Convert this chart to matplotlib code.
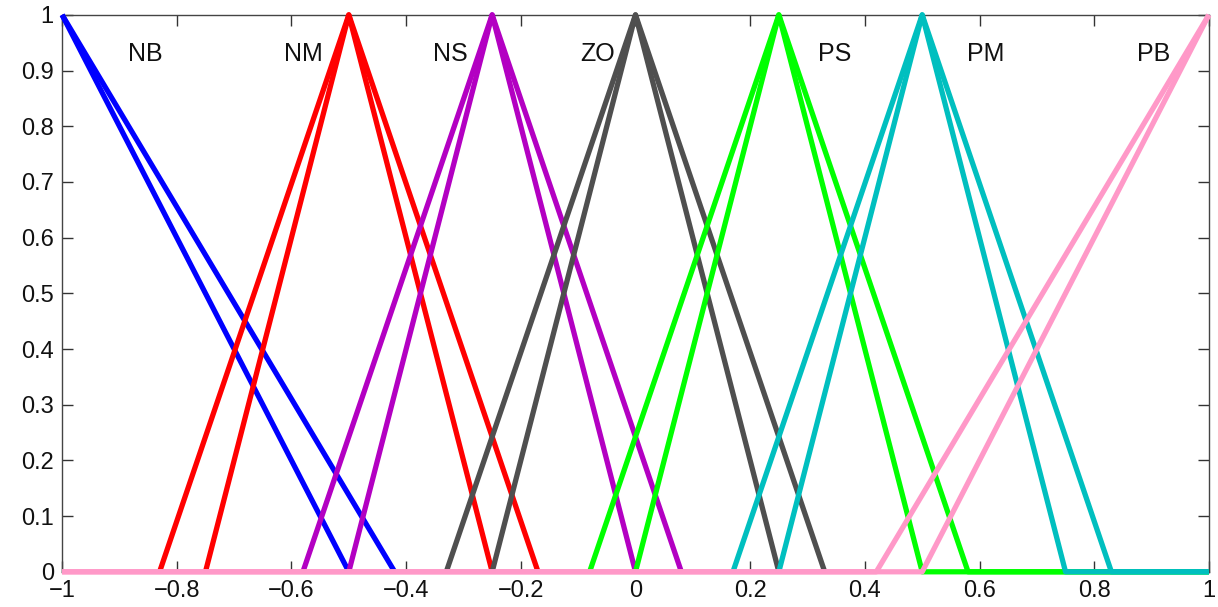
import numpy as np
import matplotlib
matplotlib.use('Agg')
import matplotlib.pyplot as plt
from matplotlib.ticker import FuncFormatter

plt.rcParams['font.family'] = ['Liberation Sans', 'DejaVu Sans']

# fuzzy sets: peak, inner triangle feet, outer triangle feet
names = ['NB', 'NM', 'NS', 'ZO', 'PS', 'PM', 'PB']
peaks = [-1.0, -0.5, -0.25, 0.0, 0.25, 0.5, 1.0]
inner_left = [-1.0, -0.75, -0.5, -0.25, 0.0, 0.25, 0.5]
inner_right = [-0.5, -0.25, 0.0, 0.25, 0.5, 0.75, 1.0]
outer_left = [-1.0, -0.83, -0.58, -0.33, -0.08, 0.17, 0.42]
outer_right = [-0.42, -0.17, 0.08, 0.33, 0.58, 0.83, 1.0]
colors = ['#0000ff', '#ff0000', '#b300c2', '#4f4f4f', '#00ff00', '#00bfbf', '#ff99c8']
# how the zero part of each line runs on to the axis ends
extend_left = [False, False, False, False, False, False, True]
extend_right = [False, False, False, False, True, True, False]

label_x = [-0.855, -0.58, -0.322, -0.066, 0.347, 0.611, 0.904]
label_y = 0.93

fig = plt.figure(figsize=(12.18, 6.07), dpi=100)
ax = fig.add_axes([0.051, 0.058, 0.9415, 0.9175])

def tri_line(a, b, c, ext_l, ext_r):
    xs = [a, b, c]
    ys = [0, 1, 0]
    if a == b:
        ys[0] = 1
    if b == c:
        ys[2] = 1
    if ext_l and a > -1:
        xs = [-1] + xs
        ys = [0] + ys
    if ext_r and c < 1:
        xs = xs + [1]
        ys = ys + [0]
    return xs, ys

for i in range(len(names)):
    for lo, hi in [(outer_left[i], outer_right[i]), (inner_left[i], inner_right[i])]:
        xs, ys = tri_line(lo, peaks[i], hi, extend_left[i], extend_right[i])
        # drop duplicated points at the axis end
        pts = []
        for x, y in zip(xs, ys):
            if not pts or pts[-1] != (x, y):
                pts.append((x, y))
        xs = [p[0] for p in pts]
        ys = [p[1] for p in pts]
        ax.plot(xs, ys, color=colors[i], lw=3.8, solid_capstyle='butt',
                solid_joinstyle='round', clip_on=False, zorder=3)
    ax.text(label_x[i], label_y, names[i], fontsize=18, ha='center', va='center',
            color='#111111')

ax.set_xlim(-1, 1)
ax.set_ylim(0, 1)
ax.set_xticks(np.round(np.arange(-1, 1.01, 0.2), 1))
ax.set_yticks(np.round(np.arange(0, 1.01, 0.1), 1))

def fmt(v, pos):
    v = round(v, 2) + 0.0
    if abs(v) < 1e-9:
        return '0'
    s = '%g' % v
    return s.replace('-', '\u2212')

ax.xaxis.set_major_formatter(FuncFormatter(fmt))
ax.yaxis.set_major_formatter(FuncFormatter(fmt))
ax.tick_params(direction='in', length=8, width=1, top=True, right=True,
               labelsize=17, colors='#333333', labelcolor='#111111', pad=6)
for sp in ax.spines.values():
    sp.set_color('#444444')
    sp.set_linewidth(1)

fig.savefig('out.png', dpi=100)
